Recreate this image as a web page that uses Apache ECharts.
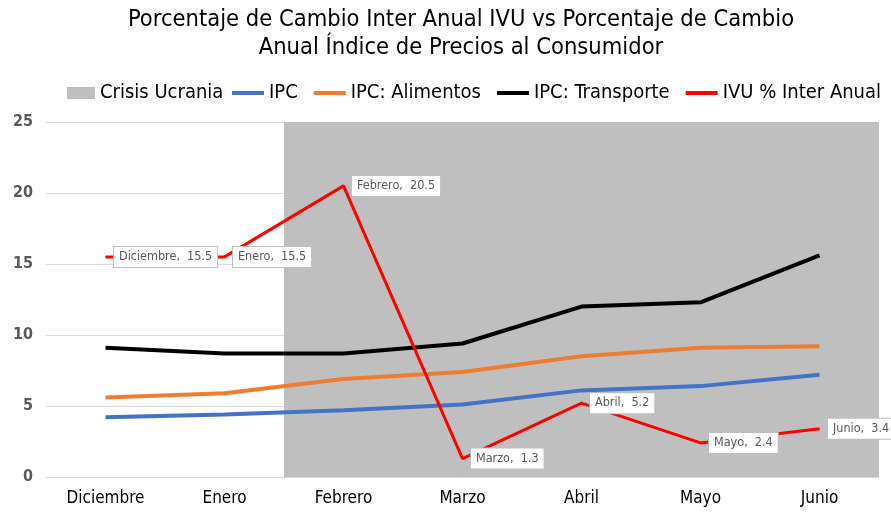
<!DOCTYPE html>
<html>
<head>
<meta charset="utf-8">
<script src="https://cdn.jsdelivr.net/npm/echarts@6/dist/echarts.min.js"></script>
<style>
  html, body { margin: 0; padding: 0; background: #fff; }
  #chart { width: 891px; height: 512px; }
</style>
</head>
<body>
<div id="chart"></div>
<script>
const months = ['Diciembre', 'Enero', 'Febrero', 'Marzo', 'Abril', 'Mayo', 'Junio']
const crisis = [null, null, 25, 25, 25, 25, 25]
const ipc = [4.2, 4.4, 4.7, 5.1, 6.1, 6.4, 7.2]
const ipcAlimentos = [5.6, 5.9, 6.9, 7.4, 8.5, 9.1, 9.2]
const ipcTransporte = [9.1, 8.7, 8.7, 9.4, 12.0, 12.3, 15.6]
const ivu = [15.5, 15.5, 20.5, 1.3, 5.2, 2.4, 3.4]

const font = 'DejaVu Sans Condensed'

const chart = echarts.init(document.getElementById('chart'))

const lineSeries = (name, data, color, width) => ({
  name: name,
  type: 'line',
  data: data,
  symbol: 'none',
  lineStyle: { width: width, color: color },
  itemStyle: { color: color },
  z: 3
})

// IVU line carries the callout labels, so it needs (tiny) symbols
const ivuSeries = lineSeries('IVU % Inter Anual', ivu, '#ff0000', 3)
ivuSeries.z = 4
ivuSeries.symbol = 'circle'
ivuSeries.symbolSize = 1
ivuSeries.showSymbol = true
ivuSeries.label = {
  show: true,
  position: 'right',
  distance: 8,
  formatter: '{b},  {c}',
  fontFamily: font,
  fontSize: 12.5,
  color: '#595959',
  backgroundColor: '#fff',
  borderColor: '#bfbfbf',
  borderWidth: 1,
  padding: [4, 5, 3, 5]
}

const legendText = { fontFamily: font, fontSize: 20, color: '#000' }

const option = {
  animation: false,
  title: {
    text: 'Porcentaje de Cambio Inter Anual IVU vs Porcentaje de Cambio\nAnual Índice de Precios al Consumidor',
    left: 456,
    top: 1,
    textAlign: 'center',
    textStyle: {
      fontFamily: font,
      fontSize: 23.5,
      fontWeight: 'normal',
      color: '#000',
      lineHeight: 28
    }
  },
  legend: [
    {
      left: 67,
      top: 83,
      padding: 0,
      itemWidth: 28,
      itemHeight: 12,
      icon: 'rect',
      textStyle: legendText,
      data: ['Crisis Ucrania']
    },
    {
      left: 232,
      top: 83,
      padding: 0,
      itemWidth: 32,
      itemHeight: 4,
      itemGap: 16,
      icon: 'rect',
      textStyle: legendText,
      data: ['IPC', 'IPC: Alimentos', 'IPC: Transporte', 'IVU % Inter Anual']
    }
  ],
  grid: {
    left: 46,
    right: 12,
    top: 122,
    bottom: 35
  },
  xAxis: {
    type: 'category',
    data: months,
    boundaryGap: true,
    axisLine: { show: false },
    axisTick: { show: false },
    axisLabel: { fontFamily: font, fontSize: 17, color: '#000', margin: 13 }
  },
  yAxis: {
    type: 'value',
    min: 0,
    max: 25,
    interval: 5,
    axisLabel: { fontFamily: font, fontSize: 16, fontWeight: 'bold', color: '#595959', margin: 13 },
    splitLine: { lineStyle: { color: '#d9d9d9', width: 1 } }
  },
  series: [
    {
      name: 'Crisis Ucrania',
      type: 'bar',
      data: crisis,
      barWidth: '100%',
      barGap: '-100%',
      itemStyle: { color: '#bfbfbf' },
      z: 1
    },
    lineSeries('IPC', ipc, '#4472c4', 4),
    lineSeries('IPC: Alimentos', ipcAlimentos, '#ed7d31', 4),
    lineSeries('IPC: Transporte', ipcTransporte, '#000000', 4),
    ivuSeries
  ]
}

chart.setOption(option)
</script>
</body>
</html>
